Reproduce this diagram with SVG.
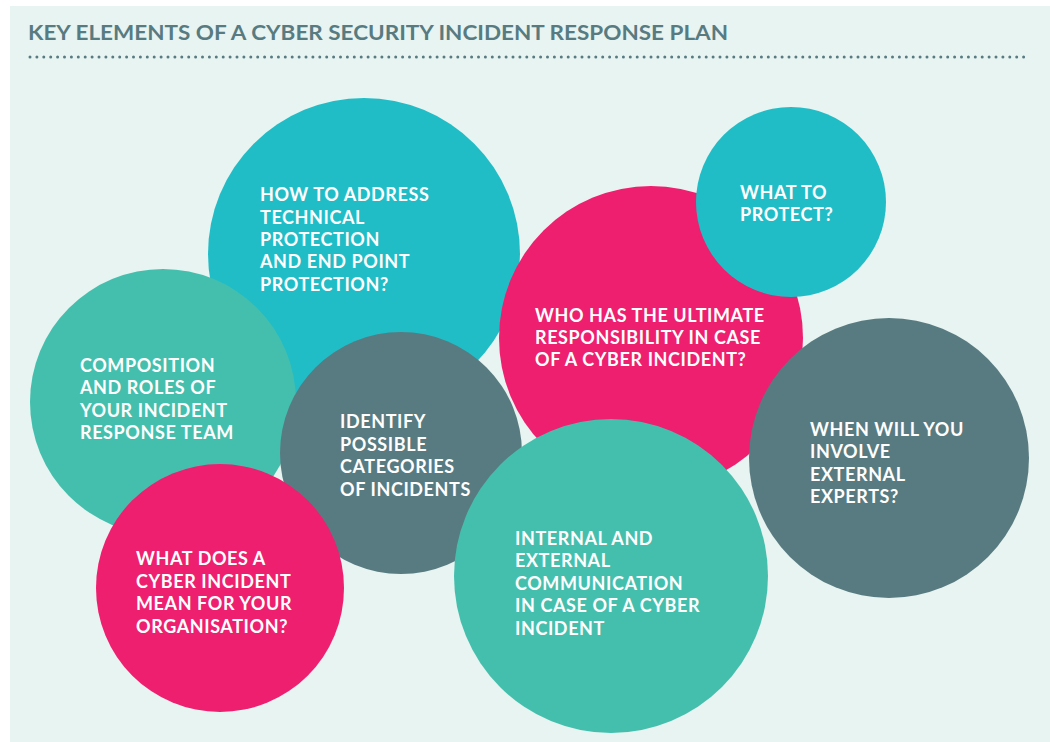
<svg xmlns="http://www.w3.org/2000/svg" width="1050" height="742" viewBox="0 0 1050 742">
<style>
.title{font-family:Lato,"Open Sans",sans-serif;font-weight:700;font-size:20px;fill:#587b81}
.lbl{font-family:Lato,"Open Sans",sans-serif;font-weight:700;font-size:18px;letter-spacing:0.6px;fill:#ffffff}
.teal{fill:#21bdc7}.green{fill:#45bfad}.pink{fill:#ee1f6f}.slate{fill:#587b81}
</style>
<rect x="0" y="0" width="1050" height="742" fill="#ffffff"/>
<rect x="10" y="6" width="1040" height="736" fill="#e8f4f1"/>
<text class="title" x="28" y="40" textLength="700" lengthAdjust="spacingAndGlyphs">KEY ELEMENTS OF A CYBER SECURITY INCIDENT RESPONSE PLAN</text>
<line x1="30" y1="57" x2="1030" y2="57" stroke="#587b81" stroke-width="3" stroke-linecap="round" stroke-dasharray="0 6.9"/>
<g id="node-technical"><circle class="teal" cx="364" cy="254" r="156"/>
<text class="lbl"><tspan x="260" y="201">HOW TO ADDRESS</tspan><tspan x="260" y="224">TECHNICAL</tspan><tspan x="260" y="246">PROTECTION</tspan><tspan x="260" y="268">AND END POINT</tspan><tspan x="260" y="291">PROTECTION?</tspan></text></g>
<g id="node-composition"><circle class="green" cx="163" cy="402" r="133"/>
<text class="lbl"><tspan x="80" y="372">COMPOSITION</tspan><tspan x="80" y="394">AND ROLES OF</tspan><tspan x="80" y="417">YOUR INCIDENT</tspan><tspan x="80" y="439">RESPONSE TEAM</tspan></text></g>
<g id="node-responsibility"><circle class="pink" cx="651" cy="338" r="152"/>
<text class="lbl"><tspan x="535" y="322">WHO HAS THE ULTIMATE</tspan><tspan x="535" y="344">RESPONSIBILITY IN CASE</tspan><tspan x="535" y="366">OF A CYBER INCIDENT?</tspan></text></g>
<g id="node-protect"><circle class="teal" cx="791" cy="202" r="95"/>
<text class="lbl"><tspan x="740" y="199">WHAT TO</tspan><tspan x="740" y="221">PROTECT?</tspan></text></g>
<g id="node-categories"><circle class="slate" cx="401" cy="453" r="121"/>
<text class="lbl"><tspan x="340" y="428">IDENTIFY</tspan><tspan x="340" y="451">POSSIBLE</tspan><tspan x="340" y="473">CATEGORIES</tspan><tspan x="340" y="496">OF INCIDENTS</tspan></text></g>
<g id="node-meaning"><circle class="pink" cx="220" cy="588" r="124"/>
<text class="lbl"><tspan x="136" y="565">WHAT DOES A</tspan><tspan x="136" y="588">CYBER INCIDENT</tspan><tspan x="136" y="610">MEAN FOR YOUR</tspan><tspan x="136" y="633">ORGANISATION?</tspan></text></g>
<g id="node-communication"><circle class="green" cx="611" cy="576" r="157"/>
<text class="lbl"><tspan x="515" y="545">INTERNAL AND</tspan><tspan x="515" y="567">EXTERNAL</tspan><tspan x="515" y="590">COMMUNICATION</tspan><tspan x="515" y="612">IN CASE OF A CYBER</tspan><tspan x="515" y="635">INCIDENT</tspan></text></g>
<g id="node-experts"><circle class="slate" cx="889" cy="458" r="140"/>
<text class="lbl"><tspan x="810" y="436">WHEN WILL YOU</tspan><tspan x="810" y="458">INVOLVE</tspan><tspan x="810" y="481">EXTERNAL</tspan><tspan x="810" y="503">EXPERTS?</tspan></text></g>
<g id="connectors"></g>
</svg>
